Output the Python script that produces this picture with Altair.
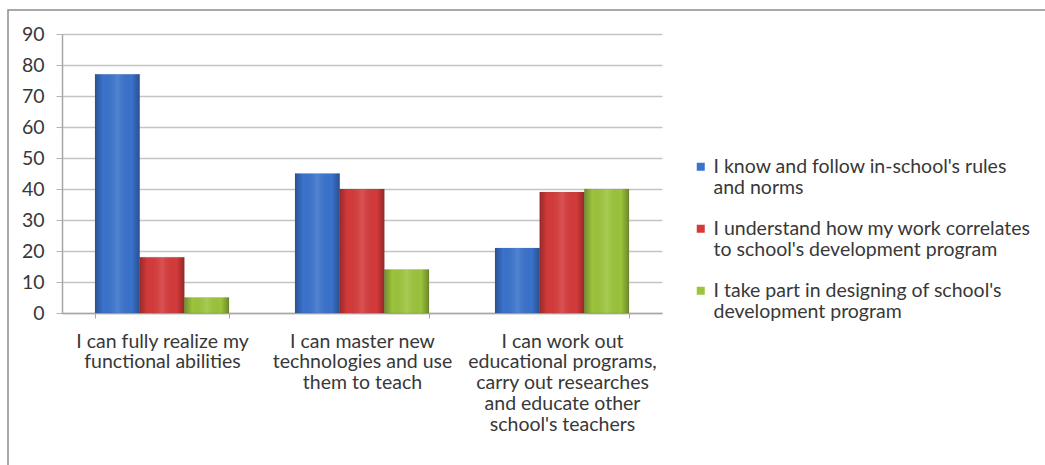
import altair as alt
import pandas as pd

categories = [
    "I can fully realize my|functional abilities",
    "I can master new|technologies and use|them to teach",
    "I can work out|educational programs,|carry out researches|and educate other|school's teachers",
]
series = [
    "I know and follow in-school's rules|and norms",
    "I understand how my work correlates|to school's development program",
    "I take part in designing of school's|development program",
]
values_s1 = [77, 45, 21]
values_s2 = [18, 40, 39]
values_s3 = [5, 14, 40]
colors = ["#3a72cc", "#d53a3a", "#9cc43c"]
y_ticks = [0, 10, 20, 30, 40, 50, 60, 70, 80, 90]

rows = []
for s, vals in zip(series, [values_s1, values_s2, values_s3]):
    for c, v in zip(categories, vals):
        rows.append({"category": c, "series": s, "value": v})
df = pd.DataFrame(rows)

FONT = "Lato"
FS = 19.5
TXT = "#383838"

x_enc = alt.X(
    "category:N",
    sort=categories,
    scale=alt.Scale(paddingInner=0.33, paddingOuter=0.165),
    axis=alt.Axis(
        title=None, labelAngle=0, labelExpr="split(datum.label, '|')",
        labelFont=FONT, labelFontSize=FS, labelLineHeight=20.8, labelColor=TXT,
        labelPadding=14, labelLimit=0, tickBand="extent", tickSize=5,
        tickColor="#a6a6a6", domainColor="#a6a6a6", domainWidth=1.5, grid=False,
        labelBaseline="top",
    ),
)
xo_enc = alt.XOffset("series:N", sort=series, scale=alt.Scale(paddingInner=0, paddingOuter=0))
y_enc = alt.Y(
    "value:Q",
    scale=alt.Scale(domain=[0, 90], nice=False),
    axis=alt.Axis(
        title=None, values=y_ticks, labelFont=FONT, labelFontSize=FS, labelColor=TXT,
        labelPadding=12, tickSize=6, tickColor="#b5b5b5", domainColor="#a6a6a6",
        domainWidth=1.5, gridColor="#c4c4c4", gridWidth=1.5,
    ),
)

base = alt.Chart(df).encode(x=x_enc, xOffset=xo_enc, y=y_enc)

bars = base.mark_bar(stroke="#555555", strokeOpacity=0.25, strokeWidth=0.5).encode(
    color=alt.Color(
        "series:N", sort=series,
        scale=alt.Scale(domain=series, range=colors),
        legend=alt.Legend(
            title=None, orient="none", legendX=629, legendY=123,
            symbolType="square", symbolSize=64, symbolStrokeWidth=0,
            labelFont=FONT, labelFontSize=FS, labelColor=TXT, labelLimit=0,
            labelExpr="split(datum.label, '|')",
            rowPadding=20, labelOffset=3,
        ),
    )
)

shade = base.mark_bar(
    color=alt.Gradient(
        gradient="linear", x1=0, x2=1, y1=0, y2=0,
        stops=[
            alt.GradientStop(offset=0, color="rgba(0,0,0,0.28)"),
            alt.GradientStop(offset=0.18, color="rgba(0,0,0,0)"),
            alt.GradientStop(offset=0.5, color="rgba(255,255,255,0.12)"),
            alt.GradientStop(offset=0.82, color="rgba(0,0,0,0)"),
            alt.GradientStop(offset=1, color="rgba(0,0,0,0.3)"),
        ],
    )
)

frame = alt.Chart(pd.DataFrame({"a": [0]})).mark_rect(
    filled=False, stroke="#8c8c8c", strokeWidth=1.5
).encode(
    x=alt.value(-54), x2=alt.value(1100), y=alt.value(-24), y2=alt.value(500)
)

chart = alt.layer(frame, bars, shade).properties(
    width=600, height=279,
    autosize=alt.AutoSizeParams(type="none"),
    padding={"left": 62, "top": 34, "right": 383, "bottom": 152},
    background="white",
).configure_view(stroke=None)

chart.save("out.html", embed_options={"renderer": "svg", "actions": False})
